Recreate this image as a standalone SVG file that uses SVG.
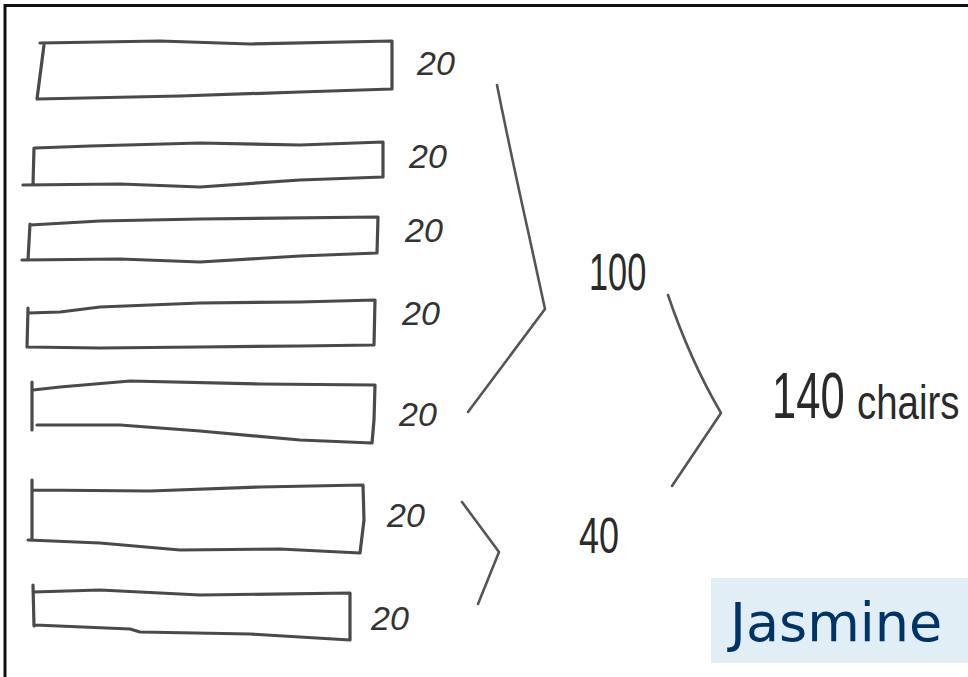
<svg xmlns="http://www.w3.org/2000/svg" width="968" height="677" viewBox="0 0 968 677">
<style>
.bar{fill:none;stroke:#4a4a4a;stroke-width:3.2;stroke-linejoin:round;stroke-linecap:round}
.br{fill:none;stroke:#555;stroke-width:2.6;stroke-linecap:round;stroke-linejoin:round}
.hw{font-family:"Liberation Sans","DejaVu Sans",sans-serif;fill:#333;font-size:34px;font-style:italic}
.big{font-family:"Liberation Sans","DejaVu Sans",sans-serif;fill:#2a2a2a}
</style>
<rect x="0" y="0" width="968" height="677" fill="#fff"/>
<path d="M5,677 L5,5.5 L968,5.5" fill="none" stroke="#111" stroke-width="3"/>
<g id="bar1">
<path class="bar" d="M40,43 L160,41 L250,44 L392,41 L392,89 L300,92 L180,96 L37,99 L44,45"/>
<text class="hw" x="417" y="75">20</text>
</g>
<g id="bar2">
<path class="bar" d="M35,148 L90,146 L200,143 L300,145 L383,142 L383,177 L300,180 L200,187 L120,184 L23,185 M33,185 L34,148"/>
<text class="hw" x="409" y="168">20</text>
</g>
<g id="bar3">
<path class="bar" d="M30,225 L100,221 L200,219 L378,217 L377,253 L300,256 L200,262 L120,259 L22,260 M28,260 L30,224"/>
<text class="hw" x="405" y="242">20</text>
</g>
<g id="bar4">
<path class="bar" d="M28,313 L60,312 L100,307 L200,303 L300,302 L375,300 L374,345 L300,346 L200,347 L100,348 L27,347 M27,347 L28,308"/>
<text class="hw" x="402" y="325">20</text>
</g>
<g id="bar5">
<path class="bar" d="M33,390 L60,387 L130,381 L260,384 L375,385 L374,420 L372,443 L300,440 L200,431 L120,425 L37,425 M32,430 L32,382"/>
<text class="hw" x="399" y="426">20</text>
</g>
<g id="bar6">
<path class="bar" d="M33,490 L150,491 L260,487 L363,485 L364,520 L360,553 L280,549 L180,550 L100,543 L28,540 M32,540 L32,480"/>
<text class="hw" x="387" y="527">20</text>
</g>
<g id="bar7">
<path class="bar" d="M33,592 L100,590 L200,595 L350,593 L350,640 L250,634 L140,632 L130,629 L35,625 M34,626 L33,585"/>
<text class="hw" x="371" y="630">20</text>
</g>
<g id="connectors">
<path class="br" d="M497,85 Q510,150 530,240 L545,309 L468,412"/>
<path class="br" d="M462,502 L499,552 L478,604"/>
<path class="br" d="M668,295 Q690,360 721,413 L672,486"/>
</g>
<g id="sum100">
<text class="big" font-size="52" transform="translate(589,290) scale(0.66,1)">100</text>
</g>
<g id="sum40">
<text class="big" font-size="50" transform="translate(579,553) scale(0.72,1)">40</text>
</g>
<g id="total">
<text class="big" font-size="64" transform="translate(772,418) scale(0.68,1)">140</text>
<text class="big" font-size="48" transform="translate(857,419) scale(0.8,1)">chairs</text>
</g>
<g id="name">
<rect x="711" y="578" width="257" height="85" fill="#e1eef6"/>
<text x="730" y="641" font-family="'DejaVu Sans',Verdana,sans-serif" font-size="54" fill="#003366">Jasmine</text>
</g>
</svg>
